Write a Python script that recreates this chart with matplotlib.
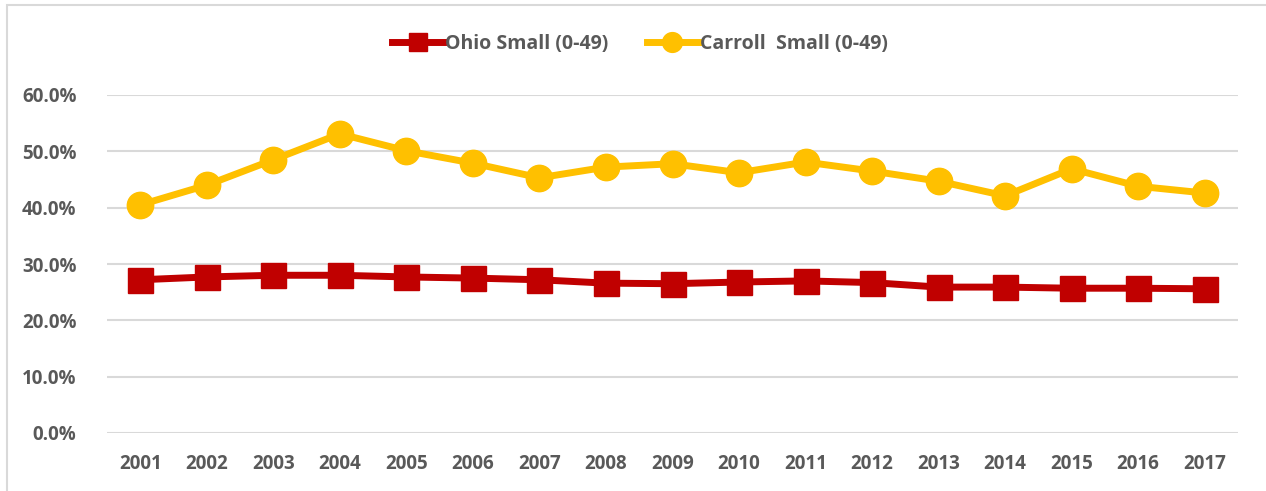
import matplotlib.pyplot as plt
from matplotlib.patches import Rectangle
from matplotlib.ticker import FuncFormatter

years = [str(y) for y in range(2001, 2018)]
ohio_small = [27.2, 27.7, 28.0, 28.0, 27.7, 27.5, 27.2, 26.6, 26.5, 26.8,
              27.0, 26.7, 25.9, 25.9, 25.7, 25.7, 25.6]
carroll_small = [40.5, 44.0, 48.5, 53.1, 50.1, 47.9, 45.3, 47.2, 47.8, 46.2,
                 48.1, 46.5, 44.7, 42.1, 46.9, 43.8, 42.6]

RED = "#C00000"
GOLD = "#FFC000"
GREY_TXT = "#595959"
GRID = "#D9D9D9"

plt.rcParams["font.family"] = ["Open Sans", "DejaVu Sans"]

W, H = 1266, 491
fig = plt.figure(figsize=(W / 100, H / 100), dpi=100)
ax = fig.add_axes([107 / W, 1 - 433 / H, (1238 - 107) / W, (433 - 95) / H])

x = list(range(len(years)))
ax.plot(x, ohio_small, color=RED, lw=5, marker="s", ms=18,
        label="Ohio Small (0-49)", zorder=3)
ax.plot(x, carroll_small, color=GOLD, lw=5, marker="o", ms=19,
        label="Carroll  Small (0-49)", zorder=3)

ax.set_xlim(-0.5, len(years) - 0.5)
ax.set_ylim(0, 60)
ax.set_yticks(range(0, 61, 10))
ax.yaxis.set_major_formatter(FuncFormatter(lambda v, _: f"{v:.1f}%"))
ax.set_xticks(x)
ax.set_xticklabels(years)
ax.grid(axis="y", color=GRID, lw=1.5)
ax.set_axisbelow(True)
for s in ax.spines.values():
    s.set_visible(False)
ax.tick_params(length=0, labelsize=13.5, colors=GREY_TXT)
ax.tick_params(axis="x", pad=15)
ax.tick_params(axis="y", pad=22)
for lab in ax.get_xticklabels() + ax.get_yticklabels():
    lab.set_fontweight("bold")

leg = fig.legend(loc="center", bbox_to_anchor=(640 / W, 1 - 44 / H), ncol=2,
                 frameon=False, fontsize=14, handlelength=2.6,
                 columnspacing=2.0, handletextpad=0.1, markerscale=0.75)
for t in leg.get_texts():
    t.set_color(GREY_TXT)
    t.set_fontweight("bold")

# outer chart frame (partly cut off by the image edge)
fig.patches.append(Rectangle((7 / W, -0.1), 1.2, 1 - 5 / H + 0.1,
                             transform=fig.transFigure, fill=False,
                             edgecolor=GRID, lw=1.5))

fig.savefig("out.png", dpi=100)
